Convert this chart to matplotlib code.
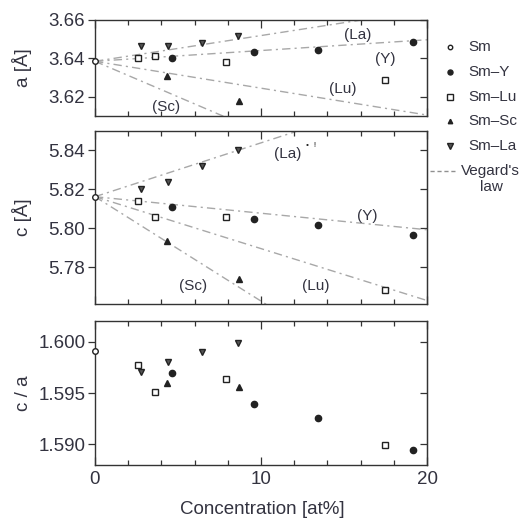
import matplotlib
matplotlib.use("Agg")
import matplotlib.pyplot as plt
import numpy as np
from matplotlib.lines import Line2D
from matplotlib.ticker import MultipleLocator

plt.rcParams['font.family'] = ['Liberation Sans', 'DejaVu Sans']

# ---- data ----
sm_x = [0.0]
sm_a = [3.6385]
sm_c = [5.8162]
sm_ca = [1.5991]

y_x = [4.66, 9.58, 13.45, 19.14]
y_a = [3.6402, 3.6431, 3.6446, 3.6486]
y_c = [5.8108, 5.8047, 5.8018, 5.7967]
y_ca = [1.5969, 1.5939, 1.5926, 1.5895]

lu_x = [2.6, 3.6, 7.88, 17.45]
lu_a = [3.6404, 3.6410, 3.6380, 3.6286]
lu_c = [5.8140, 5.8057, 5.8057, 5.7684]
lu_ca = [1.5977, 1.5951, 1.5964, 1.5899]

sc_x = [4.35, 8.65]
sc_a = [3.6310, 3.6180]
sc_c = [5.7933, 5.7738]
sc_ca = [1.5960, 1.5956]

la_x = [2.8, 4.37, 6.45, 8.6]
la_a = [3.6462, 3.6462, 3.6480, 3.6517]
la_c = [5.8200, 5.8236, 5.8319, 5.8400]
la_ca = [1.5970, 1.5980, 1.5990, 1.5999]

vegard_names = ['La', 'Y', 'Lu', 'Sc']
vegard_a_slope = [0.00134, 0.00056, -0.00140, -0.00370]
vegard_c_slope = [0.00277, -0.00085, -0.00267, -0.00537]

a_labels = {'(La)': (15.8, 3.652), '(Y)': (17.5, 3.6398), '(Lu)': (14.9, 3.624), '(Sc)': (4.3, 3.6146)}
c_labels = {'(La)': (11.6, 5.838), '(Y)': (16.4, 5.8064), '(Lu)': (13.3, 5.7704), '(Sc)': (5.9, 5.7704)}

legend_labels = ['Sm', 'Sm\u2013Y', 'Sm\u2013Lu', 'Sm\u2013Sc', 'Sm\u2013La']

xticks = [0, 10, 20]

# ---- figure ----
W, H = 525, 524
fig = plt.figure(figsize=(W / 100, H / 100), dpi=100)

def frac(x0, y0, x1, y1):
    return [x0 / W, 1 - y1 / H, (x1 - x0) / W, (y1 - y0) / H]

ax1 = fig.add_axes(frac(95, 20, 427, 116))
ax2 = fig.add_axes(frac(95, 131, 427, 304))
ax3 = fig.add_axes(frac(95, 321, 427, 465))

txtc = '#333340'
mk = dict(linestyle='none', color='#222222', clip_on=False, zorder=3)
vline = dict(color='#a8a8a8', lw=1.0, linestyle=(0, (6, 3, 1.5, 3)), zorder=1)

styles = [
    dict(marker='o', ms=4, mfc='white', mec='#222222', mew=1.0),
    dict(marker='o', ms=4.5, mfc='#222222', mec='#222222'),
    dict(marker='s', ms=5, mfc='white', mec='#222222', mew=1.0),
    dict(marker='^', ms=4, mfc='#222222', mec='#222222'),
    dict(marker='v', ms=5, mfc='#555555', mec='#222222'),
]

def draw(ax, sm, yy, lu, sc, la):
    xs_all = [sm_x, y_x, lu_x, sc_x, la_x]
    ys_all = [sm, yy, lu, sc, la]
    for xx, vv, st in zip(xs_all, ys_all, styles):
        ax.plot(xx, vv, ls='none', clip_on=False, zorder=3, **st)

draw(ax1, sm_a, y_a, lu_a, sc_a, la_a)
draw(ax2, sm_c, y_c, lu_c, sc_c, la_c)
draw(ax3, sm_ca, y_ca, lu_ca, sc_ca, la_ca)

xs = np.array([0, 20])
for s in vegard_a_slope:
    ax1.plot(xs, sm_a[0] + s * xs, **vline)
for s in vegard_c_slope:
    ax2.plot(xs, sm_c[0] + s * xs, **vline)

for t, (x, y) in a_labels.items():
    ax1.text(x, y, t, fontsize=11, color=txtc, ha='center', va='center')
for t, (x, y) in c_labels.items():
    ax2.text(x, y, t, fontsize=11, color=txtc, ha='center', va='center')
ax2.text(13.0, 5.8425, '•  !', fontsize=6, color='#222222', ha='center', va='center')

ax1.set_ylim(3.61, 3.66)
ax1.set_yticks([3.62, 3.64, 3.66])
ax1.yaxis.set_major_formatter(matplotlib.ticker.FormatStrFormatter('%.2f'))
ax2.set_ylim(5.761, 5.85)
ax2.set_yticks([5.78, 5.80, 5.82, 5.84])
ax2.yaxis.set_major_formatter(matplotlib.ticker.FormatStrFormatter('%.2f'))
ax3.set_ylim(1.588, 1.602)
ax3.set_yticks([1.590, 1.595, 1.600])
ax3.yaxis.set_major_formatter(matplotlib.ticker.FormatStrFormatter('%.3f'))

for ax in (ax1, ax2, ax3):
    ax.set_xlim(0, 20)
    ax.set_xticks(xticks)
    ax.xaxis.set_minor_locator(MultipleLocator(2))
    for sp in ax.spines.values():
        sp.set_color('#333333')
        sp.set_linewidth(1.0)
    ax.tick_params(axis='x', which='major', direction='in', top=True, bottom=True,
                   length=6, width=0.9, color='#333333', labelsize=13.5, labelcolor=txtc, pad=4)
    ax.tick_params(axis='x', which='minor', direction='in', top=True, bottom=True,
                   length=3.5, width=0.9, color='#333333')
    ax.tick_params(axis='y', which='major', direction='out', left=True, right=False,
                   length=5, width=0.9, color='#333333', labelsize=13.5, labelcolor=txtc, pad=2)
    sec = ax.secondary_yaxis('right')
    sec.set_yticks(ax.get_yticks())
    sec.tick_params(direction='in', length=5, width=0.9, color='#333333', labelright=False)
    sec.spines['right'].set_color('#333333')

ax1.tick_params(axis='x', labelbottom=False)
ax2.tick_params(axis='x', labelbottom=False)

ax1.set_ylabel('a [Å]', fontsize=13.5, color=txtc)
ax2.set_ylabel('c [Å]', fontsize=13.5, color=txtc)
ax3.set_ylabel('c / a', fontsize=13.5, color=txtc)
for ax in (ax1, ax2, ax3):
    ax.yaxis.set_label_coords(-0.19, 0.5)

fig.text(262 / W, 1 - 510 / H, 'Concentration [at%]', fontsize=13.5, color=txtc,
         ha='center', va='center')

# legend (drawn in figure coordinates)
leg_y0, leg_dy = 47, 24.8
for i, (lab, st) in enumerate(zip(legend_labels, styles)):
    yy = 1 - (leg_y0 + i * leg_dy) / H
    st2 = dict(st)
    st2['ms'] = st['ms'] * 0.8
    fig.add_artist(Line2D([450 / W], [yy], transform=fig.transFigure, ls='none', **st2))
    fig.text(468 / W, yy, lab, fontsize=11, color=txtc, ha='left', va='center')
yv = 1 - (leg_y0 + 5 * leg_dy) / H
fig.add_artist(Line2D([430 / W, 457 / W], [yv, yv], transform=fig.transFigure,
                      color='#909090', lw=1.0, ls=(0, (3, 2))))
fig.text(461 / W, yv, "Vegard's", fontsize=11, color=txtc, ha='left', va='center')
fig.text(491 / W, 1 - 187 / H, 'law', fontsize=11, color=txtc, ha='center', va='center')

fig.savefig('out.png', dpi=100)
